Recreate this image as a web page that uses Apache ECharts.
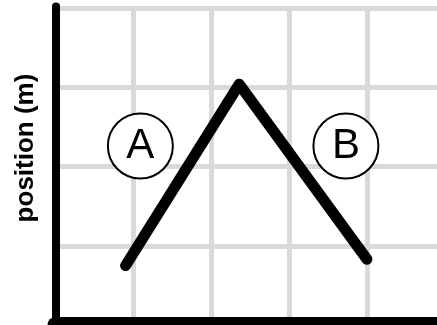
<!DOCTYPE html>
<html>
<head>
<meta charset="utf-8">
<script src="https://cdn.jsdelivr.net/npm/echarts@6/dist/echarts.min.js"></script>
<style>
  html, body { margin: 0; padding: 0; background: #fff; }
  #chart { width: 437px; height: 325px; }
</style>
</head>
<body>
<div id="chart"></div>
<script>
// position-time path: rises (A) then falls (B)
const pathX = [0.9, 2.36, 4.0];
const pathY = [0.75, 3.04, 0.83];

// circled segment labels
const markNames = ['A', 'B'];
const markX = [1.09, 3.73];
const markY = [2.26, 2.26];

const yTitle = 'position (m)';

(function () {
  const chart = echarts.init(document.getElementById('chart'));

  const GRID_COLOR = '#d9d9d9';

  chart.setOption({
    animation: false,
    grid: { left: 55.5, right: 0, top: 6.5, bottom: 0 },
    xAxis: {
      type: 'value',
      min: 0,
      max: 4.9,
      interval: 1,
      axisLine: { show: true, lineStyle: { color: '#000', width: 16 } },
      axisTick: { show: false },
      axisLabel: { show: false },
      splitLine: {
        show: true,
        showMinLine: false,
        showMaxLine: false,
        lineStyle: { color: GRID_COLOR, width: 5 }
      }
    },
    yAxis: {
      type: 'value',
      min: 0,
      max: 4.02,
      interval: 1,
      axisLine: { show: true, lineStyle: { color: '#000', width: 8, cap: 'round' } },
      axisTick: { show: false },
      axisLabel: { show: false },
      splitLine: {
        show: true,
        showMinLine: false,
        showMaxLine: false,
        lineStyle: { color: GRID_COLOR, width: 5 }
      }
    },
    graphic: [{
      type: 'text',
      x: 26,
      y: 148,
      rotation: Math.PI / 2,
      style: {
        text: yTitle,
        font: 'bold 26px "Liberation Sans", Arial, sans-serif',
        fill: '#000',
        align: 'center',
        verticalAlign: 'middle'
      }
    }],
    series: [
      {
        type: 'line',
        data: pathX.map((x, i) => [x, pathY[i]]),
        showSymbol: false,
        lineStyle: { color: '#000', width: 11, cap: 'round', join: 'round' },
        z: 3
      },
      {
        type: 'scatter',
        data: markNames.map((n, i) => ({ name: n, value: [markX[i], markY[i]] })),
        symbol: 'circle',
        symbolSize: 65,
        itemStyle: { color: '#fff', borderColor: '#000', borderWidth: 2, opacity: 1 },
        label: {
          show: true,
          position: 'inside',
          formatter: '{b}',
          color: '#000',
          fontSize: 42,
          fontFamily: '"Liberation Sans", Arial, sans-serif'
        },
        z: 4
      }
    ]
  });

  window.addEventListener('resize', () => chart.resize());
})();
</script>
</body>
</html>
